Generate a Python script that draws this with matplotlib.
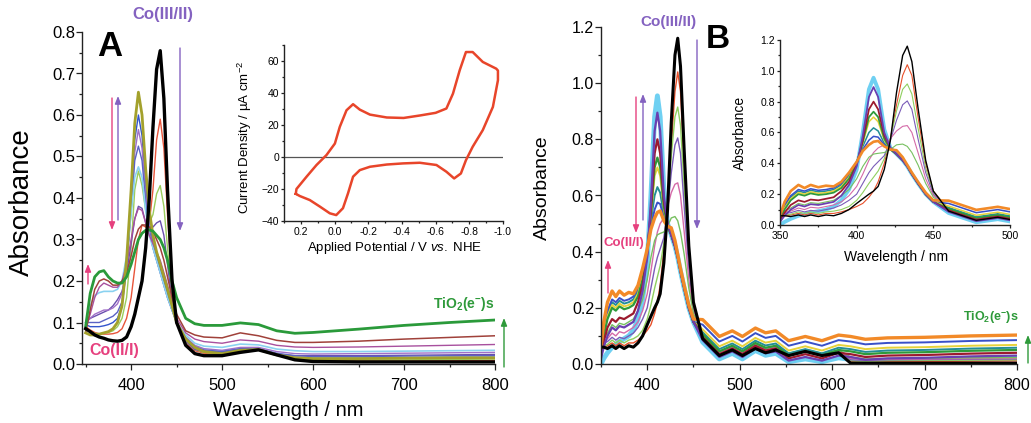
import matplotlib
matplotlib.use('Agg')
import matplotlib.pyplot as plt
from matplotlib.ticker import MultipleLocator, FuncFormatter

plt.rcParams['font.family'] = ['Liberation Sans', 'DejaVu Sans']
plt.rcParams['mathtext.fontset'] = 'custom'
plt.rcParams['mathtext.rm'] = 'Liberation Sans'
plt.rcParams['mathtext.it'] = 'Liberation Sans:italic'
plt.rcParams['mathtext.bf'] = 'Liberation Sans:bold'

# ---------------- panel A spectra (absorbance vs wavelength) ----------------
wl_a = [350, 355, 360, 365, 370, 375, 380, 385, 390, 395,
        400, 404, 408, 412, 416, 420, 424, 428, 432, 436,
        440, 445, 450, 460, 470, 480, 500, 520, 540, 560,
        580, 600, 650, 700, 750, 800]

a_black = [.085, .078, .07, .065, .062, .058, .056, .055, .057, .065,
           .09, .12, .16, .2, .28, .4, .57, .71, .755, .64,
           .42, .2, .1, .045, .025, .02, .02, .028, .034, .022,
           .01, .006, .005, .005, .005, .005]
a_red = [.09, .082, .076, .073, .072, .072, .073, .076, .085, .11,
         .16, .23, .3, .335, .33, .34, .42, .54, .59, .52,
         .36, .19, .1, .05, .032, .026, .024, .03, .034, .022,
         .012, .008, .008, .008, .008, .009]
a_lgreen = [.085, .078, .074, .073, .074, .076, .08, .09, .11, .16,
            .28, .42, .465, .43, .37, .34, .36, .41, .43, .38,
            .28, .16, .1, .055, .035, .028, .025, .032, .034, .022,
            .013, .01, .01, .01, .011, .012]
a_purple = [.1, .11, .115, .12, .125, .13, .14, .155, .175, .22,
            .29, .35, .38, .375, .34, .33, .33, .34, .345, .31,
            .24, .15, .1, .055, .035, .03, .03, .036, .035, .024,
            .02, .02, .02, .021, .022, .023]
a_olive = [.075, .07, .07, .072, .075, .078, .085, .1, .14, .25,
           .42, .58, .655, .6, .47, .37, .31, .27, .24, .21,
           .18, .14, .1, .06, .04, .03, .025, .033, .035, .022,
           .015, .013, .013, .014, .015, .015]
a_blue = [.095, .09, .09, .09, .092, .095, .1, .11, .14, .23,
          .39, .54, .6, .55, .43, .34, .29, .26, .23, .2,
          .17, .13, .1, .06, .04, .032, .028, .035, .036, .024,
          .016, .014, .014, .015, .016, .016]
a_violet = [.1, .11, .12, .125, .13, .13, .135, .145, .17, .24,
            .38, .51, .565, .52, .41, .33, .28, .25, .22, .19,
            .16, .13, .1, .065, .045, .037, .033, .04, .04, .03,
            .025, .024, .025, .026, .027, .028]
a_slate = [.1, .1, .1, .1, .105, .11, .115, .125, .15, .23,
           .37, .49, .525, .49, .39, .32, .28, .25, .22, .19,
           .16, .13, .1, .062, .042, .034, .03, .037, .037, .026,
           .02, .018, .018, .019, .02, .02]
a_cyan = [.1, .14, .165, .172, .175, .175, .175, .18, .2, .26,
          .36, .45, .475, .45, .37, .31, .28, .25, .22, .19,
          .16, .13, .1, .07, .05, .043, .04, .048, .046, .036,
          .032, .03, .03, .031, .032, .033]
a_magenta = [.085, .12, .16, .185, .195, .19, .185, .185, .2, .24,
             .3, .35, .375, .37, .34, .31, .29, .27, .25, .22,
             .19, .15, .11, .075, .06, .054, .05, .058, .055, .045,
             .041, .04, .041, .043, .045, .047]
a_brown = [.075, .13, .18, .2, .205, .2, .19, .19, .2, .22,
           .26, .3, .325, .335, .335, .33, .32, .3, .28, .25,
           .21, .16, .12, .08, .07, .065, .063, .075, .068, .057,
           .052, .052, .055, .06, .064, .068]
a_green = [.09, .17, .21, .222, .225, .21, .2, .195, .195, .21,
           .24, .27, .3, .315, .322, .323, .32, .31, .3, .28,
           .25, .2, .16, .11, .097, .093, .093, .099, .095, .08,
           .074, .076, .084, .093, .1, .106]

# ---------------- panel A inset: cyclic voltammogram ----------------
cv_v = [0.23, 0.226, 0.166, 0.107, 0.048, -0.002, -0.031, -0.071, -0.11, -0.15,
        -0.21, -0.31, -0.41, -0.51, -0.6, -0.664, -0.703, -0.743, -0.78, -0.82,
        -0.88, -0.96, -0.97, -0.97, -0.94, -0.88, -0.82, -0.78, -0.75, -0.71,
        -0.664, -0.605, -0.506, -0.407, -0.31, -0.21, -0.15, -0.11, -0.08, -0.05,
        -0.01, 0.028, 0.087, 0.147, 0.206, 0.23]
cv_j = [-23, -20, -12.3, -5, 1.2, 8.4, 18.8, 29.2, 33, 29.6,
        26.5, 24.7, 24.4, 26, 27.6, 30.3, 39.6, 54.2, 65.6, 65.6,
        59.4, 55.2, 54, 48, 31.3, 16.8, 6.4, -2, -10.3, -13.4,
        -9.2, -5, -3.6, -4, -4.7, -6.1, -8.2, -12.3, -22.7, -32,
        -36.3, -35.2, -31, -26.9, -24.4, -23]

# ---------------- panel B spectra ----------------
wl_b = [350, 353, 357, 362, 366, 370, 375, 380, 385, 390,
        395, 400, 404, 408, 411, 414, 418, 422, 426, 430,
        433, 436, 440, 445, 450, 460, 478, 492, 503, 517,
        528, 539, 553, 571, 589, 607, 620, 636, 660, 700,
        750, 800]

b_black = [.06, .06, .055, .065, .055, .065, .055, .065, .06, .075,
           .1, .14, .17, .2, .22, .25, .36, .55, .86, 1.1,
           1.16, 1.06, .76, .42, .22, .09, .03, .05, .03, .055,
           .04, .05, .03, .045, .03, .04, .003, .003, .003, .003,
           .003, .003]
b_red = [.05, .06, .065, .075, .065, .075, .065, .075, .075, .085,
         .1, .12, .14, .18, .22, .28, .4, .56, .78, .97,
         1.04, .97, .7, .4, .22, .1, .035, .055, .035, .06,
         .045, .055, .03, .045, .03, .042, .008, .006, .008, .009,
         .01, .011]
b_lgreen = [.05, .065, .07, .085, .075, .085, .075, .085, .09, .1,
            .12, .16, .21, .27, .31, .35, .43, .56, .74, .88,
            .915, .85, .63, .37, .21, .11, .04, .06, .04, .065,
            .05, .06, .035, .048, .033, .045, .012, .01, .012, .013,
            .014, .015]
b_purple = [.06, .075, .08, .095, .085, .095, .09, .1, .11, .13,
            .16, .2, .27, .34, .38, .41, .45, .55, .68, .78,
            .805, .75, .56, .34, .2, .11, .04, .06, .04, .068,
            .052, .06, .035, .05, .035, .048, .015, .013, .015, .016,
            .017, .018]
b_pink = [.06, .08, .09, .11, .1, .115, .11, .12, .13, .15,
          .19, .25, .33, .42, .47, .5, .52, .56, .61, .64,
          .645, .6, .47, .3, .19, .11, .04, .06, .04, .068,
          .052, .06, .035, .05, .035, .048, .02, .015, .017, .018,
          .019, .02]
b_mgreen = [.06, .09, .11, .14, .13, .145, .14, .15, .16, .19,
            .23, .3, .38, .44, .46, .465, .47, .49, .52, .525,
            .51, .47, .39, .27, .18, .11, .045, .065, .045, .072,
            .056, .064, .038, .052, .038, .05, .025, .018, .02, .021,
            .022, .023]
b_cyan = [0, .02, .04, .06, .07, .08, .09, .1, .12, .16,
          .23, .36, .6, .88, .955, .88, .62, .5, .46, .42,
          .38, .33, .27, .2, .15, .078, .018, .038, .018, .048,
          .031, .038, .008, .018, .008, .022, .016, .008, .012, .014,
          .018, .021]
b_violet = [.02, .06, .1, .13, .12, .135, .13, .14, .15, .19,
            .26, .38, .58, .83, .895, .83, .6, .5, .46, .42,
            .38, .33, .27, .2, .15, .085, .025, .045, .025, .055,
            .038, .045, .012, .025, .012, .03, .025, .015, .02, .022,
            .027, .03]
b_darkred = [.03, .08, .13, .16, .15, .165, .16, .17, .18, .22,
             .28, .39, .55, .75, .8, .75, .58, .5, .46, .42,
             .38, .33, .27, .2, .15, .095, .035, .055, .035, .065,
             .048, .055, .02, .035, .02, .04, .035, .025, .03, .032,
             .037, .04]
b_green = [.04, .1, .16, .2, .19, .205, .195, .2, .21, .24,
           .3, .4, .54, .7, .735, .7, .56, .49, .46, .42,
           .38, .33, .27, .2, .15, .105, .045, .065, .045, .075,
           .058, .065, .03, .045, .03, .05, .045, .035, .04, .042,
           .047, .05]
b_yellow = [.04, .11, .17, .21, .2, .215, .205, .21, .22, .25,
            .31, .4, .53, .67, .7, .67, .55, .49, .46, .42,
            .38, .33, .27, .2, .15, .123, .063, .083, .063, .093,
            .076, .083, .048, .063, .048, .068, .063, .053, .058, .06,
            .065, .068]
b_teal = [.04, .12, .18, .22, .21, .225, .215, .22, .23, .26,
          .32, .41, .51, .6, .63, .61, .53, .49, .46, .42,
          .38, .33, .27, .2, .15, .113, .053, .073, .053, .083,
          .066, .073, .038, .053, .038, .058, .053, .043, .048, .05,
          .055, .058]
b_blue = [.05, .13, .19, .23, .22, .235, .225, .23, .24, .27,
          .33, .41, .49, .55, .575, .57, .52, .49, .46, .42,
          .38, .33, .27, .2, .15, .14, .08, .1, .08, .11,
          .093, .1, .065, .08, .065, .085, .08, .07, .075, .077,
          .082, .085]
b_orange = [.06, .15, .22, .26, .24, .26, .245, .255, .25, .28,
            .34, .41, .48, .52, .54, .545, .51, .49, .485, .44,
            .39, .34, .28, .21, .16, .158, .098, .118, .098, .128,
            .111, .118, .083, .098, .083, .103, .098, .088, .093, .095,
            .1, .103]

# series -> (values, colour, line width)
a_series = [(a_red, '#e8553a', 1.0), (a_lgreen, '#9ccc5c', 1.0),
            (a_purple, '#6b4fae', 1.0), (a_blue, '#3355cc', 1.0),
            (a_violet, '#a070c8', 1.0), (a_slate, '#5a62c4', 1.0),
            (a_cyan, '#8ad2f0', 1.2), (a_magenta, '#a8509e', 1.0),
            (a_brown, '#a0413a', 1.1), (a_olive, '#a3a12c', 2.0),
            (a_green, '#2a9a3a', 2.0), (a_black, '#000000', 2.4)]

b_series = [(b_cyan, '#6fd0f2', 3.5), (b_red, '#e8502a', 1.0),
            (b_lgreen, '#8fcf5f', 1.0), (b_purple, '#7a5cb8', 1.0),
            (b_pink, '#d46aa8', 1.0), (b_mgreen, '#77c060', 1.0),
            (b_teal, '#238e96', 1.4), (b_blue, '#3850c8', 1.4),
            (b_yellow, '#e6d23a', 1.4), (b_green, '#2e9a3a', 1.6),
            (b_darkred, '#9c1a2e', 1.6), (b_violet, '#6a3fb0', 1.6),
            (b_orange, '#f28a28', 2.4), (b_black, '#000000', 2.2)]

W, H = 1031, 423
fig = plt.figure(figsize=(W / 100, H / 100), dpi=100)


def box(l, t, r, b):
    return [l / W, 1 - b / H, (r - l) / W, (b - t) / H]


def fmt1(v, pos):
    return '0.0' if abs(v) < 1e-9 else '%.1f' % v


def style(ax, size, major, minor, pady, padx):
    for s in ['top', 'right']:
        ax.spines[s].set_visible(False)
    for s in ['left', 'bottom']:
        ax.spines[s].set_linewidth(1.0)
        ax.spines[s].set_color('#222222')
    ax.tick_params(which='both', direction='out', labelsize=size, width=0.9, color='#222222')
    ax.tick_params(which='major', length=major)
    ax.tick_params(which='minor', length=minor)
    ax.tick_params(axis='y', pad=pady)
    ax.tick_params(axis='x', pad=padx)
    ax.patch.set_alpha(0)


def ftext(x, y, s, **kw):
    fig.text(x / W, 1 - y / H, s, ha='center', va='center', **kw)


def arrow(x, y0, y1, color):
    fig.add_artist(matplotlib.patches.FancyArrowPatch(
        (x / W, 1 - y0 / H), (x / W, 1 - y1 / H), transform=fig.transFigure,
        arrowstyle='-|>,head_length=0.45,head_width=0.18', mutation_scale=10,
        lw=1.0, color=color, shrinkA=0, shrinkB=0))


pink = '#e6407e'
purple = '#8462c0'
green = '#2e9a3a'

# ---- panel A main ----
axA = fig.add_axes(box(82, 32, 495, 364))
for vals, col, lw in a_series:
    axA.plot(wl_a, vals, color=col, lw=lw, solid_joinstyle='round')
axA.set_xlim(346, 800)
axA.set_ylim(0, 0.8)
axA.xaxis.set_major_locator(MultipleLocator(100))
axA.xaxis.set_minor_locator(MultipleLocator(50))
axA.yaxis.set_major_locator(MultipleLocator(0.1))
axA.yaxis.set_minor_locator(MultipleLocator(0.05))
axA.yaxis.set_major_formatter(FuncFormatter(fmt1))
style(axA, 12, 4, 2.5, 1, 6)

# ---- panel A inset ----
axC = fig.add_axes(box(284, 45, 503, 221))
axC.axhline(0, color='#555555', lw=0.9)
axC.plot(cv_v, cv_j, color='#e8452a', lw=1.8)
axC.set_xlim(0.3, -1.0)
axC.set_ylim(-40, 70)
axC.xaxis.set_major_locator(MultipleLocator(0.2))
axC.xaxis.set_minor_locator(MultipleLocator(0.1))
axC.xaxis.set_major_formatter(FuncFormatter(fmt1))
axC.yaxis.set_major_locator(MultipleLocator(20))
axC.yaxis.set_minor_locator(MultipleLocator(10))
style(axC, 7.5, 2.5, 1.5, 1, 2)

# ---- panel B main ----
axB = fig.add_axes(box(601, 27, 1017, 364))
for vals, col, lw in b_series:
    axB.plot(wl_b, vals, color=col, lw=lw, solid_joinstyle='round')
axB.set_xlim(350, 800)
axB.set_ylim(0, 1.2)
axB.xaxis.set_major_locator(MultipleLocator(100))
axB.xaxis.set_minor_locator(MultipleLocator(50))
axB.yaxis.set_major_locator(MultipleLocator(0.2))
axB.yaxis.set_minor_locator(MultipleLocator(0.1))
axB.yaxis.set_major_formatter(FuncFormatter(fmt1))
style(axB, 11.5, 4, 2.5, 1, 6)

# ---- panel B inset ----
axI = fig.add_axes(box(780, 40, 1010, 225))
for vals, col, lw in b_series:
    axI.plot(wl_b, vals, color=col, lw=lw * 0.8 if col != '#000000' else 1.0)
axI.set_xlim(350, 500)
axI.set_ylim(0, 1.2)
axI.xaxis.set_major_locator(MultipleLocator(50))
axI.xaxis.set_minor_locator(MultipleLocator(25))
axI.yaxis.set_major_locator(MultipleLocator(0.2))
axI.yaxis.set_minor_locator(MultipleLocator(0.1))
axI.yaxis.set_major_formatter(FuncFormatter(fmt1))
style(axI, 7.5, 2.5, 1.5, 1, 2)

# ---- axis labels ----
ftext(22, 202, 'Absorbance', rotation=90, fontsize=20)
ftext(288, 410, 'Wavelength / nm', fontsize=14.5)
ftext(542, 188, 'Absorbance', rotation=90, fontsize=14)
ftext(808, 410, 'Wavelength / nm', fontsize=14.5)
ftext(245, 137, 'Current Density / µA cm$^{-2}$', rotation=90, fontsize=9.5)
ftext(395, 248, r'Applied Potential / V $\mathit{vs.}$ NHE', fontsize=9.5)
ftext(740, 133, 'Absorbance', rotation=90, fontsize=10)
ftext(896, 257, 'Wavelength / nm', fontsize=10)

# ---- panel letters and annotations ----
ftext(110, 47, 'A', fontsize=25, fontweight='bold')
ftext(718, 40, 'B', fontsize=24, fontweight='bold')

ftext(163, 15, 'Co(III/II)', fontsize=12, fontweight='bold', color=purple)
ftext(114, 350, 'Co(II/I)', fontsize=11.5, fontweight='bold', color=pink)
ftext(464, 304, r'TiO$_\mathbf{2}$(e$^\mathbf{-}$)s', fontsize=10, fontweight='bold', color=green)

ftext(668, 22, 'Co(III/II)', fontsize=11, fontweight='bold', color=purple)
ftext(624, 243, 'Co(II/I)', fontsize=9.5, fontweight='bold', color=pink)
ftext(991, 318, r'TiO$_\mathbf{2}$(e$^\mathbf{-}$)s', fontsize=9, fontweight='bold', color=green)

arrow(112, 98, 230, pink)
arrow(118, 220, 96, purple)
arrow(180, 48, 231, purple)
arrow(88, 284, 264, pink)
arrow(504, 367, 318, green)

arrow(636, 97, 233, pink)
arrow(643, 220, 94, purple)
arrow(697, 40, 229, purple)
arrow(608, 293, 260, pink)
arrow(1028, 363, 335, green)

fig.savefig('out.png', dpi=100)
